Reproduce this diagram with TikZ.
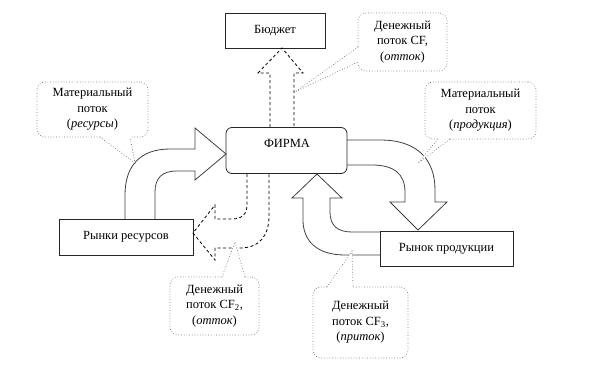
\documentclass[tikz,border=0pt]{standalone}
\usepackage{fontspec}
\setmainfont{Liberation Serif}
\newfontfamily\tnr{Liberation Serif}
\begin{document}
\begin{tikzpicture}[x=1pt,y=-1pt,
  box/.style={draw=black!85, line width=0.8pt, fill=white, inner sep=0pt, font=\tnr\fontsize{12.5}{14}\selectfont},
  flow/.style={draw=black!75, line width=0.8pt},
  money/.style={draw=black, line width=0.8pt, dash pattern=on 3pt off 2.5pt},
  callout/.style={draw=black!55, dotted, line width=0.7pt, rounded corners=8pt, fill=white,
    inner sep=0pt, align=center, font=\tnr\fontsize{12.5}{15.5}\selectfont},
  ptr/.style={draw=black!55, dotted, line width=0.7pt}
]
\useasboundingbox (0,0) rectangle (589,386);

% boxes
\node[box, minimum width=100pt, minimum height=35pt] (budget) at (275,30.5) {Бюджет};
\node[box, rounded corners=6pt, minimum width=121pt, minimum height=46pt] (firma) at (286.5,150.5) {};
\node[font=\tnr\fontsize{12.5}{14}\selectfont, inner sep=0pt] (firmatext) at (287,143) {ФИРМА};
\node[box, minimum width=134pt, minimum height=36pt] (res) at (126,237) {Рынки ресурсов};
\node[box, minimum width=133pt, minimum height=35pt] (prod) at (446.5,248.5) {Рынок продукции};

% material flow: resources -> firm
\draw[flow] (125,219) -- (125,195) .. controls (125,166) and (140,149) .. (170,149) -- (195,149)
  -- (195,128) -- (226,154) -- (195,180) -- (195,171) -- (177,171)
  .. controls (162,171) and (155,178) .. (155,192) -- (155,219);

% material flow: firm -> product market
\draw[flow] (347,140) -- (380,140) .. controls (418,140) and (435,160) .. (435,190) -- (435,202)
  -- (447,202) -- (418,230) -- (390,202) -- (405,202) -- (405,192)
  .. controls (405,174) and (394,165) .. (372,165) -- (347,165);

% money flow CF3: product market -> firm
\draw[flow] (380,255) -- (345,255) .. controls (316,255) and (303,240) .. (303,220) -- (303,198)
  -- (292,198) -- (317,174) -- (342,198) -- (330,198) -- (330,212)
  .. controls (330,226) and (338,232) .. (352,232) -- (380,232);

% money flow CF1: firm -> budget
\draw[money] (270,127) -- (270,73) -- (258,73) -- (282,48) -- (303,73) -- (294,73) -- (294,127);

% money flow CF2: firm -> resource market
\draw[money] (247,174) -- (247,205) .. controls (247,214) and (242,219) .. (232,219) -- (215,219)
  -- (215,205) -- (193,233) -- (215,260) -- (215,248) -- (240,248)
  .. controls (259,248) and (269,236) .. (269,216) -- (269,174);

% callouts
\node[callout, minimum width=111pt, minimum height=55pt] (c1) at (92.5,109.5)
  {Материальный\\поток\\(\textit{ресурсы})};
\fill[white] (101,136) -- (135,163) -- (130,136) -- cycle;
\draw[ptr] (100,137) -- (135,163) -- (130,137);

\node[callout, minimum width=89pt, minimum height=58pt] (c2) at (402.5,42)
  {Денежный\\поток CF,\\(\textit{отток})};
\fill[white] (359,47) -- (295,92) -- (359,62) -- cycle;
\draw[ptr] (358,47) -- (295,92) -- (358,62);

\node[callout, minimum width=111pt, minimum height=57pt] (c3) at (480.5,110.5)
  {Материальный\\поток\\(\textit{продукция})};
\fill[white] (438,138) -- (418,163) -- (450,138) -- cycle;
\draw[ptr] (438,139) -- (418,163) -- (450,139);

\node[callout, minimum width=89pt, minimum height=58pt] (c4) at (214.5,306)
  {Денежный\\поток CF\textsubscript{2},\\(\textit{отток})};
\fill[white] (222,278) -- (235,242) -- (245,278) -- cycle;
\draw[ptr] (222,277) -- (235,242) -- (245,277);

\node[callout, minimum width=95pt, minimum height=71pt] (c5) at (360.5,322.5)
  {Денежный\\поток CF\textsubscript{3},\\(\textit{приток})};
\fill[white] (327,288) -- (352,251) -- (353,288) -- cycle;
\draw[ptr] (327,287) -- (352,251) -- (353,287);
\end{tikzpicture}
\end{document}
